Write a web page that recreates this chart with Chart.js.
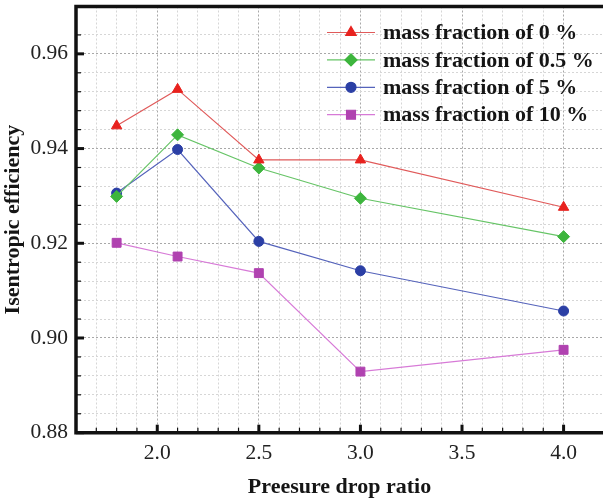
<!DOCTYPE html>
<html>
<head>
<meta charset="utf-8">
<script src="https://cdn.jsdelivr.net/npm/chart.js@4.4.0/dist/chart.umd.min.js"></script>
<style>
html, body { margin:0; padding:0; background:#fff; overflow:hidden; }
</style>
</head>
<body>
<canvas id="grafico" width="603" height="501"></canvas>
<script>
// datos
var presion = [1.8, 2.1, 2.5, 3.0, 4.0];
var serie0 = [0.9448, 0.9525, 0.9376, 0.9376, 0.9276];
var serie05 = [0.9299, 0.9429, 0.9359, 0.9295, 0.9214];
var serie5 = [0.9306, 0.9398, 0.9204, 0.9142, 0.9057];
var serie10 = [0.9201, 0.9172, 0.9137, 0.8929, 0.8975];
var etiquetas = ['mass fraction of 0 %', 'mass fraction of 0.5 %', 'mass fraction of 5 %', 'mass fraction of 10 %'];
var ticksX = [2.0, 2.5, 3.0, 3.5, 4.0];
var ticksY = [0.88, 0.90, 0.92, 0.94, 0.96];

var fuente = '"Liberation Serif", "Times New Roman", serif';

function puntos(valores) {
    var p = [];
    for (var i = 0; i < presion.length; i++) {
        p.push({x: presion[i], y: valores[i]});
    }
    return p;
}

function serie(label, valores, linea, marca, estilo, radio) {
    return {
        label: label,
        data: puntos(valores),
        showLine: true,
        borderColor: linea,
        borderWidth: 1.2,
        pointStyle: estilo,
        pointRadius: radio,
        pointHoverRadius: radio,
        pointBackgroundColor: marca,
        pointBorderColor: marca,
        pointBorderWidth: 1
    };
}

function esMayor(lista, v) {
    for (var i = 0; i < lista.length; i++) {
        if (Math.abs(lista[i] - v) < 1e-6) return true;
    }
    return false;
}

// solo posiciones multiplo del paso (el maximo del eje no lleva marca)
function enPaso(v, paso) {
    var r = v / paso;
    return Math.abs(r - Math.round(r)) < 1e-4;
}

function colorRejilla(c, lista, paso) {
    if (!c.tick) return 'rgba(0,0,0,0)';
    if (esMayor(lista, c.tick.value)) return '#a8a8a8';
    return enPaso(c.tick.value, paso) ? '#d6d6d6' : 'rgba(0,0,0,0)';
}

function sinRelleno(s) {
    s.paddingTop = 0;
    s.paddingBottom = 0;
    s.paddingLeft = 0;
    s.paddingRight = 0;
}

// marco grueso y ticks hacia dentro
var marcoPlugin = {
    id: 'marco',
    afterDraw: function(chart) {
        var ctx = chart.ctx;
        var a = chart.chartArea;
        var sx = chart.scales.x, sy = chart.scales.y;
        ctx.save();
        ctx.strokeStyle = '#111';
        sx.ticks.forEach(function(t) {
            if (!enPaso(t.value, 0.1)) return;
            var px = sx.getPixelForValue(t.value);
            var mayor = esMayor(ticksX, t.value);
            ctx.lineWidth = mayor ? 3 : 1.2;
            ctx.beginPath();
            ctx.moveTo(px, a.bottom);
            ctx.lineTo(px, a.bottom - (mayor ? 8 : 5));
            ctx.stroke();
        });
        sy.ticks.forEach(function(t) {
            if (!enPaso(t.value, 0.004)) return;
            var py = sy.getPixelForValue(t.value);
            var mayor = esMayor(ticksY, t.value);
            ctx.lineWidth = mayor ? 3 : 1.2;
            ctx.beginPath();
            ctx.moveTo(a.left, py);
            ctx.lineTo(a.left + (mayor ? 8 : 5), py);
            ctx.stroke();
        });
        ctx.lineWidth = 3.5;
        ctx.beginPath();
        ctx.moveTo(a.right + 5, a.top);
        ctx.lineTo(a.left, a.top);
        ctx.lineTo(a.left, a.bottom);
        ctx.lineTo(a.right + 5, a.bottom);
        ctx.stroke();
        ctx.restore();
    }
};

var leyendaPlugin = {
    id: 'leyenda',
    afterDraw: function(chart) {
        var ctx = chart.ctx;
        chart.data.datasets.forEach(function(ds, i) {
            var y = 32.5 + i * 27.4;
            ctx.save();
            ctx.strokeStyle = ds.borderColor;
            ctx.lineWidth = 1.2;
            ctx.beginPath();
            ctx.moveTo(327, y);
            ctx.lineTo(375, y);
            ctx.stroke();
            ctx.fillStyle = ds.pointBackgroundColor;
            ctx.strokeStyle = ds.pointBorderColor;
            Chart.helpers.drawPoint(ctx, {pointStyle: ds.pointStyle, radius: ds.pointRadius, rotation: 0, borderWidth: 1}, 351, y);
            ctx.fillStyle = '#151515';
            ctx.font = 'bold 22px ' + fuente;
            ctx.textBaseline = 'middle';
            ctx.textAlign = 'left';
            ctx.fillText(ds.label, 383, y + 1);
            ctx.restore();
        });
    }
};

var grafico = new Chart(document.getElementById('grafico').getContext('2d'), {
    type: 'scatter',
    data: {
        datasets: [
            serie(etiquetas[0], serie0, '#e05a5a', '#e8221e', 'triangle', 6),
            serie(etiquetas[1], serie05, '#66c466', '#3db53d', 'rectRot', 6),
            serie(etiquetas[2], serie5, '#5563bb', '#2b3fa5', 'circle', 5),
            serie(etiquetas[3], serie10, '#d77ad7', '#b042b0', 'rect', 6.3)
        ]
    },
    options: {
        responsive: false,
        animation: false,
        layout: { autoPadding: false, padding: { top: 6.5, right: 0, left: 0, bottom: 0 } },
        plugins: {
            legend: { display: false },
            tooltip: { enabled: false }
        },
        scales: {
            x: {
                type: 'linear',
                min: 1.6,
                max: 4.194,
                afterFit: function(s) { s.height = 68.3; sinRelleno(s); },
                grid: {
                    drawTicks: false,
                    lineWidth: 1,
                    color: function(c) { return colorRejilla(c, ticksX, 0.1); }
                },
                border: { display: false, dash: [2, 2] },
                ticks: {
                    stepSize: 0.1,
                    autoSkip: false,
                    maxRotation: 0,
                    minRotation: 0,
                    padding: 8,
                    color: '#222',
                    font: { family: fuente, size: 21.5 },
                    callback: function(v) { return esMayor(ticksX, v) ? v.toFixed(1) : ''; }
                },
                title: {
                    display: true,
                    text: 'Preesure drop ratio',
                    color: '#151515',
                    padding: 0,
                    font: { family: fuente, size: 22, weight: 'bold' }
                }
            },
            y: {
                type: 'linear',
                min: 0.88,
                max: 0.97,
                afterFit: function(s) { s.width = 76; sinRelleno(s); },
                grid: {
                    drawTicks: false,
                    lineWidth: 1,
                    color: function(c) { return colorRejilla(c, ticksY, 0.004); }
                },
                border: { display: false, dash: [2, 2] },
                ticks: {
                    stepSize: 0.004,
                    autoSkip: false,
                    padding: 8,
                    color: '#222',
                    font: { family: fuente, size: 21.5 },
                    callback: function(v) { return esMayor(ticksY, v) ? v.toFixed(2) : ''; }
                },
                title: {
                    display: true,
                    text: 'Isentropic efficiency',
                    color: '#151515',
                    padding: 0,
                    font: { family: fuente, size: 22, weight: 'bold' }
                }
            }
        }
    },
    plugins: [marcoPlugin, leyendaPlugin]
});
</script>
</body>
</html>
